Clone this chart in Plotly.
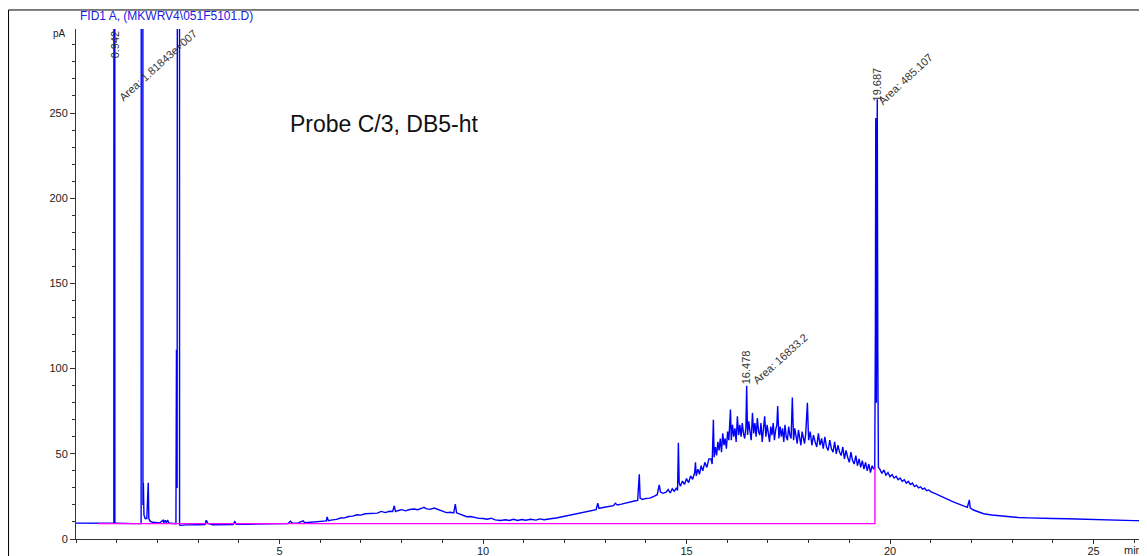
import plotly.graph_objects as go

# ---- chromatogram data (time in min, signal in pA) ----
t_solvent = [0.00, 0.30, 0.55, 0.90, 0.930, 0.942, 0.955, 0.98, 1.20, 1.45, 1.60,
             1.630, 1.645, 1.655, 1.67, 1.70, 1.74, 1.76, 1.775, 1.79, 1.82, 1.88, 1.95,
             2.05, 2.14, 2.16, 2.19, 2.22, 2.25, 2.28, 2.32, 2.42, 2.455, 2.468, 2.485,
             2.530, 2.545, 2.58, 2.70, 3.00, 3.17, 3.20, 3.24, 3.35, 3.60, 3.86,
             3.90, 3.94, 4.20, 4.60]
pa_solvent = [9.3, 9.3, 9.2, 9.2, 9.2, 3000, 9.2, 9.2, 9.0, 9.0, 9.1,
              3000, 20, 33, 14, 12, 12, 33, 33, 12, 10.5, 9.8, 9.5,
              9.4, 11, 9.5, 11, 9.6, 11.2, 9.5, 9.2, 9.0, 9.0, 111, 30,
              3000, 8.2, 8.0, 8.3, 8.4, 8.5, 11, 9.2, 8.4, 8.3, 8.5,
              10.2, 8.7, 8.7, 8.8]

t_hump1 = [5.00, 5.20, 5.27, 5.32, 5.45, 5.58, 5.62, 5.70, 5.85, 6.00, 6.10, 6.15,
           6.17, 6.20, 6.30, 6.40, 6.50, 6.60, 6.70, 6.80, 6.90, 7.00, 7.10, 7.20,
           7.30, 7.40, 7.50, 7.60, 7.70, 7.78, 7.82, 7.85, 7.90, 8.00, 8.10, 8.20,
           8.30, 8.40, 8.50, 8.55, 8.60, 8.70, 8.80, 8.90, 9.00, 9.10, 9.20, 9.28,
           9.32, 9.35, 9.40, 9.50, 9.60, 9.70, 9.80, 9.90]
pa_hump1 = [8.8, 9.0, 10.5, 9.2, 9.3, 10.6, 9.5, 9.6, 9.9, 10.1, 10.4, 10.6,
            13.0, 10.7, 11.2, 11.5, 12.3, 12.4, 13.2, 13.4, 14.2, 14.0, 14.8, 14.9,
            15.4, 15.2, 16.2, 15.5, 16.3, 16.2, 19.5, 16.1, 16.6, 17.2, 16.5, 17.3,
            17.6, 17.2, 18.1, 18.6, 17.8, 17.4, 18.2, 17.3, 16.4, 15.5, 15.7, 15.3,
            20.5, 15.4, 14.9, 14.0, 13.1, 13.2, 12.5, 12.1]

t_rise = [10.00, 10.10, 10.20, 10.30, 10.43, 10.55, 10.65, 10.75, 10.85, 10.95, 11.05,
          11.17, 11.30, 11.40, 11.50, 11.58, 11.70, 11.80, 11.90, 11.98, 12.10, 12.20,
          12.30, 12.40, 12.50, 12.60, 12.70, 12.78, 12.82, 12.85, 12.95, 13.05, 13.15,
          13.21, 13.25, 13.30, 13.40, 13.50, 13.62, 13.72, 13.80, 13.84, 13.86, 13.92,
          14.00, 14.10, 14.20, 14.28, 14.33, 14.36, 14.42, 14.50, 14.55, 14.60, 14.65,
          14.70, 14.75, 14.78, 14.80, 14.82, 14.85, 14.90, 14.95, 15.00, 15.05, 15.10,
          15.15, 15.20, 15.22, 15.24, 15.28, 15.32, 15.36, 15.40, 15.45, 15.50, 15.55]
pa_rise = [12.0, 11.6, 12.2, 11.2, 10.9, 11.3, 10.9, 11.6, 10.9, 11.4, 11.0,
           11.6, 11.1, 11.8, 11.3, 11.7, 12.0, 12.3, 12.8, 13.2, 13.6, 14.3,
           14.8, 15.2, 15.6, 16.3, 16.8, 17.2, 21.0, 18.0, 18.5, 18.8, 19.3,
           19.6, 21.0, 20.0, 20.5, 21.2, 22.0, 22.3, 22.6, 38.0, 24.0, 23.2,
           23.8, 24.0, 25.0, 26.0, 31.7, 27.5, 26.8, 27.5, 29.0, 27.0, 29.5,
           28.0, 30.0, 28.5, 56.5, 33.0, 31.0, 34.0, 32.0, 35.5, 33.0, 37.0,
           35.0, 39.0, 45.0, 37.0, 41.0, 38.0, 43.0, 40.0, 45.0, 42.0, 47.0]

t_hump2 = [15.60, 15.63, 15.66, 15.68, 15.71, 15.74, 15.77, 15.80, 15.83, 15.86, 15.89,
           15.92, 15.95, 15.98, 16.01, 16.04, 16.08, 16.10, 16.13, 16.16, 16.19, 16.22,
           16.25, 16.28, 16.31, 16.34, 16.37, 16.40, 16.43, 16.46, 16.478, 16.50, 16.53,
           16.56, 16.59, 16.62, 16.65, 16.68, 16.71, 16.74, 16.77, 16.80, 16.83, 16.86,
           16.89, 16.92, 16.95, 16.98, 17.01, 17.04, 17.07, 17.10, 17.13, 17.16, 17.19,
           17.22, 17.24, 17.27, 17.30, 17.33, 17.36, 17.39, 17.42, 17.45, 17.48, 17.51,
           17.54, 17.57, 17.60, 17.63, 17.66, 17.69, 17.72, 17.75, 17.78, 17.81, 17.84,
           17.87, 17.90, 17.93, 17.97, 18.00, 18.04, 18.08, 18.12, 18.16, 18.20, 18.24,
           18.28, 18.32, 18.36, 18.40, 18.44, 18.48, 18.52, 18.56, 18.60, 18.64, 18.68,
           18.72, 18.76, 18.80, 18.84, 18.88, 18.92, 18.96, 19.00, 19.04, 19.08, 19.12,
           19.16, 19.20, 19.24, 19.28, 19.32, 19.36, 19.40, 19.44, 19.48, 19.52, 19.56,
           19.60]
pa_hump2 = [47, 44, 70, 48, 54, 49, 57, 52, 59, 51, 62,
            55, 59, 53, 63, 58, 76, 58, 67, 60, 65, 57,
            72, 61, 67, 60, 68, 62, 59, 66, 90, 61, 69,
            63, 58, 74, 62, 68, 60, 71, 63, 61, 68, 57,
            66, 72, 60, 67, 62, 57, 66, 61, 68, 58, 64,
            67, 78, 59, 66, 60, 65, 57, 67, 60, 58, 66,
            61, 59, 83, 58, 65, 60, 56, 64, 59, 55, 63,
            58, 56, 62, 80, 58, 63, 55, 61, 57, 54, 62,
            55, 59, 53, 60, 54, 52, 58, 53, 51, 57, 50,
            55, 51, 49, 54, 47, 52, 48, 45, 51, 46, 44,
            49, 43, 47, 42, 46, 41, 45, 40, 44, 39, 43,
            41]

t_peak = [19.625, 19.640, 19.650, 19.665, 19.687, 19.700, 19.715]
pa_peak = [42, 120, 247, 80, 258, 110, 42]

t_tail = [19.75, 19.80, 19.85, 19.90, 19.95, 20.00, 20.05, 20.10, 20.15, 20.20, 20.25,
          20.30, 20.35, 20.40, 20.45, 20.50, 20.55, 20.60, 20.65, 20.70, 20.75, 20.80,
          20.85, 20.90, 20.95, 21.00, 21.10, 21.20, 21.30, 21.40, 21.50, 21.60, 21.70,
          21.80, 21.90, 21.95, 21.97, 22.05, 22.15, 22.30, 22.50, 22.70, 22.96, 23.15,
          23.40, 23.70, 24.00, 24.35, 24.70, 25.00, 25.50, 26.00, 26.30]
pa_tail = [41, 38.5, 40.5, 37.5, 39, 36.5, 37.8, 35.8, 36.8, 34.8, 35.8,
           33.8, 34.8, 32.8, 33.8, 32.0, 32.8, 30.8, 31.6, 30.0, 30.6, 29.2,
           29.8, 28.4, 28.8, 27.8, 26.8, 25.6, 24.5, 23.5, 22.4, 21.4, 20.5,
           19.5, 18.6, 22.9, 18.3, 17.0, 16.0, 14.8, 14.1, 13.6, 13.1, 12.6,
           12.4, 12.1, 12.0, 11.9, 11.6, 11.4, 11.1, 10.8, 10.7]

# integration baseline (magenta)
t_base = [0.55, 19.63, 19.63]
pa_base = [9.0, 9.0, 42.4]

x_ticks = [5, 10, 15, 20, 25]
y_ticks = [0, 50, 100, 150, 200, 250]

# peak labels: (time, pA, text, angle)
peak_labels = [
    (0.946, 290.0, "0.942", -90),
    (2.02, 278.0, "Area: 1.81843e+007", -42),
    (16.45, 100.5, "16.478", -90),
    (17.30, 105.5, "Area: 16833.2", -42),
    (19.67, 266.5, "19.687", -90),
    (20.38, 270.0, "Area: 485.107", -43),
]

# ---- figure ----
t_all = t_solvent + t_hump1 + t_rise + t_hump2 + t_peak + t_tail
pa_all = pa_solvent + pa_hump1 + pa_rise + pa_hump2 + pa_peak + pa_tail

fig = go.Figure()
fig.add_trace(go.Scatter(x=t_all, y=pa_all, mode="lines",
                         line=dict(color="#0000FF", width=1.4), hoverinfo="skip"))
fig.add_trace(go.Scatter(x=t_base, y=pa_base, mode="lines",
                         line=dict(color="#FF00FF", width=1.4), hoverinfo="skip"))

for (tx, ty, txt, ang) in peak_labels:
    fig.add_annotation(x=tx, y=ty, text=txt, textangle=ang, showarrow=False,
                       xanchor="center", yanchor="middle",
                       font=dict(family="Arial, Liberation Sans", size=11, color="#333333"))

fig.add_annotation(x=7.58, y=243.5, text="Probe C/3, DB5-ht", showarrow=False,
                   xanchor="center", yanchor="middle",
                   font=dict(family="Arial, Liberation Sans", size=23, color="#111111"))

fig.add_annotation(xref="paper", yref="paper", x=0.085, y=1.0255,
                   text="FID1 A, (MKWRV4\\051F5101.D)", showarrow=False,
                   xanchor="center", yanchor="middle",
                   font=dict(family="Arial, Liberation Sans", size=12, color="#2020E0"))
fig.add_annotation(xref="paper", yref="paper", x=-0.0075, y=0.992,
                   text="pA", showarrow=False, xanchor="right", yanchor="middle",
                   font=dict(family="Arial, Liberation Sans", size=10, color="#222222"))
fig.add_annotation(xref="paper", yref="paper", x=0.999, y=-0.022,
                   text="min", showarrow=False, xanchor="right", yanchor="middle",
                   font=dict(family="Arial, Liberation Sans", size=11, color="#222222"))

# outer frame
fig.add_shape(type="rect", xref="paper", yref="paper",
              x0=-0.0631, x1=1.0, y0=-0.2, y1=1.0373,
              line=dict(color="#000000", width=1), layer="above")

# the page body adds an 8 px offset, so the figure is 8 px smaller than the window
fig.update_layout(
    width=1139, height=548,
    margin=dict(l=68, r=2, t=21, b=17, autoexpand=False),
    paper_bgcolor="white", plot_bgcolor="white",
    showlegend=False,
    font=dict(family="Arial, Liberation Sans", size=11, color="#222222"),
    xaxis=dict(range=[0, 26.265], tickvals=x_ticks, ticktext=[str(v) for v in x_ticks],
               ticks="outside", ticklen=4, tickcolor="#333333", showgrid=False,
               zeroline=False, showline=True, linecolor="#333333", linewidth=1,
               automargin=False, ticklabelstandoff=-2,
               minor=dict(dtick=1, tick0=0, ticks="outside", ticklen=3, tickcolor="#333333"),
               tickfont=dict(size=11)),
    yaxis=dict(range=[0, 299.3], tickvals=y_ticks, ticktext=[str(v) for v in y_ticks],
               ticks="outside", ticklen=5, tickcolor="#333333", showgrid=False,
               zeroline=False, showline=True, linecolor="#333333", linewidth=1,
               automargin=False,
               minor=dict(dtick=10, tick0=0, ticks="outside", ticklen=3, tickcolor="#333333"),
               tickfont=dict(size=11)),
)

fig.write_html("out.html", config={"displayModeBar": False})
